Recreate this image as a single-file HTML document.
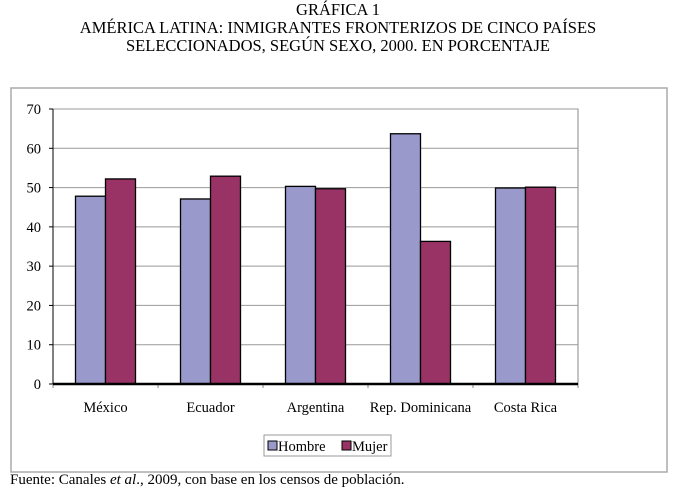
<!DOCTYPE html>
<html><head><meta charset="utf-8"><style>
body{margin:0;width:676px;height:495px;background:#fff;font-family:"Liberation Serif",serif;overflow:hidden;position:relative}
.t{position:absolute;left:0;width:676px;text-align:center;font-size:16.5px;color:#000}
</style></head><body>
<div class="t" style="top:1px;line-height:18px">GRÁFICA 1<br>AMÉRICA LATINA: INMIGRANTES FRONTERIZOS DE CINCO PAÍSES<br>SELECCIONADOS, SEGÚN SEXO, 2000. EN PORCENTAJE</div>
<svg id="c" width="676" height="495" style="position:absolute;left:0;top:0"></svg>
<div style="position:absolute;left:10px;top:472px;font-size:15px;font-family:'Liberation Serif',serif">Fuente: Canales <i>et al</i>., 2009, con base en los censos de población.</div>
<script>
const categories=["México","Ecuador","Argentina","Rep. Dominicana","Costa Rica"];
const hombre=[47.8,47.1,50.3,63.7,49.9];
const mujer=[52.2,52.9,49.7,36.3,50.1];
const ticks=[0,10,20,30,40,50,60,70];
const svg=document.getElementById('c');const NS='http://www.w3.org/2000/svg';
function mk(t,a,p){const e=document.createElementNS(NS,t);for(const k in a)e.setAttribute(k,a[k]);(p||svg).appendChild(e);return e;}
const L=53,R=578,T=109,B=384,ymax=70;
const y=v=>B-(v/ymax)*(B-T);
const cw=(R-L)/categories.length;
const x=i=>L+i*cw;
let f=mk('rect',{x:11,y:88,width:656,height:384,fill:'none',stroke:'#aaa','stroke-width':1.5});


let pa=mk('rect',{x:L,y:T,width:R-L,height:B-T,fill:'none',stroke:'#888','stroke-width':1});


ticks.forEach(t=>{
 if(t>0){let g=mk('line',{x1:L,x2:R,y1:y(t),y2:y(t),stroke:'#999','stroke-width':1});
 
 }
 let tl=mk('text',{x:41,y:y(t)+5,'text-anchor':'end','font-size':14.5,'font-family':'Liberation Serif',fill:'#000'});
 tl.textContent=t;
 
 
 mk('line',{x1:L-4,x2:L,y1:y(t),y2:y(t),stroke:'#000'});
});
mk('line',{x1:L,x2:L,y1:T,y2:B,stroke:'#000','stroke-width':1});
const bw=30;
categories.forEach((c,i)=>{
 const x0=x(i)+cw/2-bw;
 let b1=mk('rect',{x:x0,y:y(hombre[i]),width:bw,height:B-y(hombre[i]),fill:'#9999cc',stroke:'#000','stroke-width':1.3});
 
 
 let b2=mk('rect',{x:x0+bw,y:y(mujer[i]),width:bw,height:B-y(mujer[i]),fill:'#993366',stroke:'#000','stroke-width':1.3});
 
 
 let tx=mk('text',{x:x(i)+cw/2,y:412,'text-anchor':'middle','font-size':14.5,'font-family':'Liberation Serif',fill:'#000'});
 tx.textContent=c;
 
 
 mk('line',{x1:x(i),x2:x(i),y1:B,y2:B+4,stroke:'#888'});
});
mk('line',{x1:R,x2:R,y1:B,y2:B+4,stroke:'#888'});
mk('line',{x1:L,x2:R,y1:B,y2:B,stroke:'#000','stroke-width':2.5});
const lg=mk('g',{});


mk('rect',{x:264,y:435,width:127,height:21,fill:'#fff',stroke:'#999'},lg);
mk('rect',{x:268,y:441,width:9,height:9,fill:'#9999cc',stroke:'#000'},lg);
let t1=mk('text',{x:278,y:451,'font-size':14.5,'font-family':'Liberation Serif'},lg);t1.textContent='Hombre';
mk('rect',{x:342,y:441,width:9,height:9,fill:'#993366',stroke:'#000'},lg);
let t2=mk('text',{x:352,y:451,'font-size':14.5,'font-family':'Liberation Serif'},lg);t2.textContent='Mujer';
</script>
</body></html>
